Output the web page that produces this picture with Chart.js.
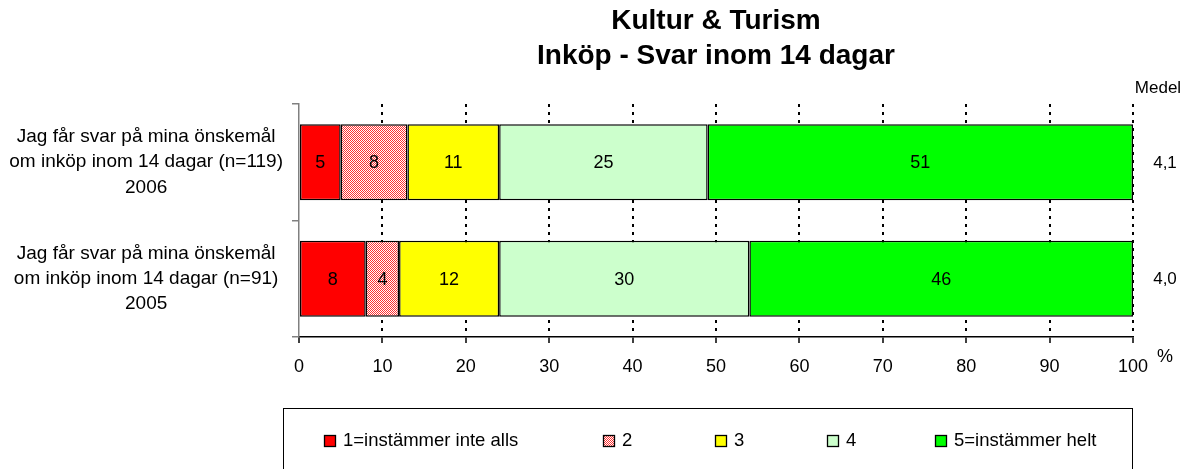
<!DOCTYPE html>
<html><head><meta charset="utf-8">
<script src="https://cdn.jsdelivr.net/npm/chart.js@4.4.0/dist/chart.umd.min.js"></script>
<style>html,body{margin:0;padding:0;background:#fff}#wrap{width:1192px;height:469px}</style>
</head><body><div id="wrap"><canvas id="c" width="1192" height="469"></canvas></div>
<script>
const categories = [
  ["Jag får svar på mina önskemål","om inköp inom 14 dagar (n=119)","2006"],
  ["Jag får svar på mina önskemål","om inköp inom 14 dagar (n=91)","2005"]
];
const seriesNames = ["1=instämmer inte alls","2","3","4","5=instämmer helt"];
const s1 = [5, 8];
const s2 = [8, 4];
const s3 = [11, 12];
const s4 = [25, 30];
const s5 = [51, 46];
const medel = ["4,1", "4,0"];
const medelTitle = "Medel";
const unitLabel = "%";
const titleLines = ["Kultur & Turism", "Inköp - Svar inom 14 dagar"];
const xMin = 0, xMax = 100, xStep = 10;

const FONT = "'Liberation Sans', Arial, sans-serif";
Chart.defaults.font.family = FONT;
Chart.defaults.color = '#000';

function checker() {
  const c = document.createElement('canvas'); c.width = 2; c.height = 2;
  const g = c.getContext('2d');
  g.fillStyle = '#ffffff'; g.fillRect(0, 0, 2, 2);
  g.fillStyle = '#ff3030'; g.fillRect(0, 0, 1, 1); g.fillRect(1, 1, 1, 1);
  return g.createPattern(c, 'repeat');
}
const fills = ['#ff0000', checker(), '#ffff00', '#ccffcc', '#00ff00'];
const values = [s1, s2, s3, s4, s5];

const datasets = seriesNames.map((n, i) => ({
  label: n, data: values[i], backgroundColor: fills[i],
  borderColor: '#000', borderWidth: 1.5, borderSkipped: false,
  barPercentage: 0.652, categoryPercentage: 1
}));

// legend item left edges (layout only)
const legendBoxX = [324, 603, 715, 827, 935];

const extras = {
  id: 'extras',
  afterDatasetsDraw(chart) {
    const ctx = chart.ctx;
    ctx.save();
    ctx.fillStyle = '#000';
    ctx.font = '18px ' + FONT;
    ctx.textAlign = 'center'; ctx.textBaseline = 'middle';
    chart.data.datasets.forEach((ds, di) => {
      const meta = chart.getDatasetMeta(di);
      meta.data.forEach((el, i) => {
        ctx.fillText(String(ds.data[i]), (el.x + el.base) / 2, el.y + 1);
      });
    });
    const ca = chart.chartArea;
    const ys = chart.scales.y;
    ctx.font = '17px ' + FONT;
    ctx.fillText(medelTitle, ca.right + 25, ca.top - 16);
    medel.forEach((m, i) => ctx.fillText(m, ca.right + 32, ys.getPixelForValue(i) + 1));
    ctx.font = '18px ' + FONT;
    ctx.fillText(unitLabel, ca.right + 32, ca.bottom + 20);
    // legend frame + items
    ctx.strokeStyle = '#000'; ctx.lineWidth = 1;
    ctx.strokeRect(ca.left - 16 + 0.5, 408.5, (ca.right - 1) - (ca.left - 16), 80);
    ctx.textAlign = 'left';
    ctx.font = '18.5px ' + FONT;
    chart.data.datasets.forEach((ds, di) => {
      const bx = legendBoxX[di], by = 435;
      ctx.fillStyle = ds.backgroundColor;
      ctx.fillRect(bx, by, 11, 11);
      ctx.strokeStyle = '#000'; ctx.lineWidth = 1.3;
      ctx.strokeRect(bx + 0.5, by + 0.5, 11, 11);
      ctx.fillStyle = '#000';
      ctx.fillText(ds.label, bx + 19, by + 5.5);
    });
    ctx.restore();
  }
};

new Chart(document.getElementById('c'), {
  type: 'bar',
  data: { labels: categories, datasets },
  options: {
    indexAxis: 'y', responsive: false, animation: false, devicePixelRatio: 1,
    layout: { padding: { left: 0, right: 59, top: 0, bottom: 0 } },
    plugins: {
      title: {
        display: true, text: titleLines, fullSize: false, color: '#000',
        font: { size: 28, weight: 'bold', lineHeight: 1.25 },
        padding: { top: 4, bottom: 30 }
      },
      legend: { display: false },
      tooltip: { enabled: false }
    },
    scales: {
      x: {
        stacked: true, min: xMin, max: xMax,
        ticks: { stepSize: xStep, color: '#000', font: { size: 18 }, padding: 13, autoSkip: false, maxRotation: 0 },
        grid: {
          color: (c) => (c.tick && c.tick.value === 0) ? 'rgba(0,0,0,0)' : '#000',
          lineWidth: 2, tickColor: '#000', tickWidth: 1.5, tickLength: 6, tickBorderDash: []
        },
        border: { display: true, color: '#000', width: 1.5, dash: [3, 5] },
        afterFit(s) { s.height = 132; }
      },
      y: {
        stacked: true,
        ticks: { color: '#000', font: { size: 19, lineHeight: 1.32 }, crossAlign: 'center', padding: 9, autoSkip: false },
        grid: { offset: true, drawOnChartArea: false, color: '#808080', tickLength: 7, lineWidth: 1.5 },
        border: { display: true, color: '#808080', width: 1.5 },
        afterFit(s) { s.width = 299; }
      }
    }
  },
  plugins: [extras]
});
</script></body></html>
